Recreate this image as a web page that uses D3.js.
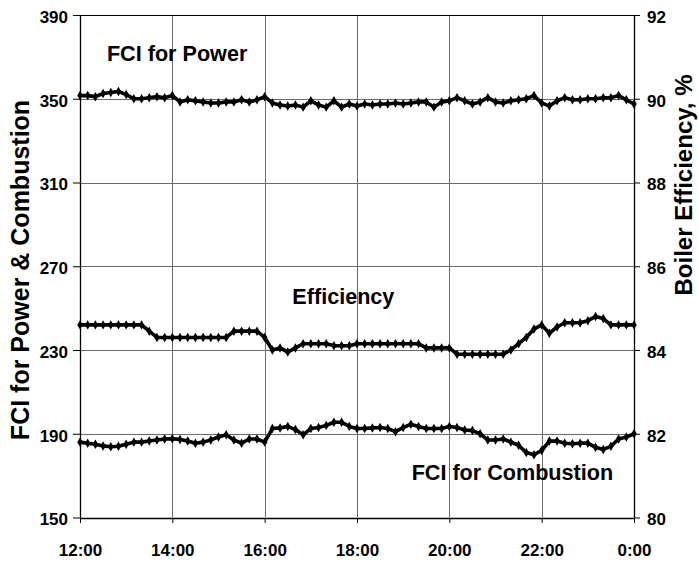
<!DOCTYPE html>
<html>
<head>
<meta charset="utf-8">
<script src="https://cdn.jsdelivr.net/npm/d3@7"></script>
<style>
  html, body { margin: 0; padding: 0; background: #fff; }
  svg { display: block; }
  text { font-family: "Liberation Sans", Arial, sans-serif; font-weight: bold; fill: #000; }
</style>
</head>
<body>
<svg id="chart" width="699" height="561"></svg>
<script>
// Minutes after 12:00, sampled every 10 minutes (0 .. 720)
const minutes = d3.range(0, 721, 10);

// FCI for Power (left axis)
const fciPower = [
  351.5, 351.5, 351, 352.5, 353, 353.5, 352, 350, 350, 350.5,
  351, 350.5, 351.5, 348.5, 349.5, 349, 348.5, 348, 348, 348.5,
  348.5, 349.5, 348.5, 349.5, 351, 348, 347, 346.5, 347, 346,
  349, 347, 346, 349, 346, 347.5, 346.5, 347.5, 347, 347.5,
  347.5, 348, 347.5, 348, 348.5, 348.5, 346, 348.5, 349, 350.5,
  349, 347.5, 348.5, 350.5, 348.5, 348, 349, 349.5, 350, 351.5,
  348, 346.5, 349, 350.5, 349.5, 349.5, 350, 350, 350.5, 350.5,
  351.5, 349.5, 347.5
];

// FCI for Combustion (left axis)
const fciCombustion = [
  186, 185.5, 185, 184.2, 183.8, 184, 185, 186, 186, 186.5,
  187, 187.5, 187.6, 187.3, 186.5, 185.5, 186, 187, 188.5, 189.5,
  187, 185.5, 187.5, 187.5, 186, 192.5, 192.8, 193.5, 192, 189.5,
  192.5, 193, 194, 195.5, 195.5, 193.5, 192.5, 192.5, 192.8, 193,
  192.5, 191, 193, 194.5, 193.5, 192.5, 192.5, 192.5, 193.5, 193,
  191.8, 191.5, 190, 187, 187, 187.5, 186, 184.5, 181, 180,
  182, 186.5, 186.5, 185.5, 185.2, 185.5, 185.5, 183.5, 182.5, 184,
  187.5, 188.4, 190
];

// Boiler efficiency, % (right axis)
const efficiency = [
  84.6, 84.6, 84.6, 84.6, 84.6, 84.6, 84.6, 84.6, 84.6, 84.45,
  84.3, 84.3, 84.3, 84.3, 84.3, 84.3, 84.3, 84.3, 84.3, 84.3,
  84.45, 84.45, 84.45, 84.45, 84.3, 84.0, 84.05, 83.95, 84.05, 84.15,
  84.15, 84.15, 84.15, 84.1, 84.1, 84.1, 84.15, 84.15, 84.15, 84.15,
  84.15, 84.15, 84.15, 84.15, 84.15, 84.05, 84.05, 84.05, 84.05, 83.9,
  83.9, 83.9, 83.9, 83.9, 83.9, 83.9, 84.0, 84.15, 84.3, 84.5,
  84.6, 84.4, 84.55, 84.65, 84.65, 84.65, 84.7, 84.8, 84.75, 84.6,
  84.6, 84.6, 84.6
];

const xTickMinutes = [0, 120, 240, 360, 480, 600, 720];
const xTickLabels = ["12:00", "14:00", "16:00", "18:00", "20:00", "22:00", "0:00"];
const leftTicks = [150, 190, 230, 270, 310, 350, 390];
const rightTicks = [80, 82, 84, 86, 88, 90, 92];

const leftTitle = "FCI for Power & Combustion";
const rightTitle = "Boiler Efficiency, %";
const annotations = [
  { text: "FCI for Power", t: 35, v: 368 },
  { text: "Efficiency", t: 276, v: 252 },
  { text: "FCI for Combustion", t: 431, v: 168 }
];

const svg = d3.select("#chart");
const m = { left: 80, right: 634, top: 15, bottom: 517.5 };

const x = d3.scaleLinear().domain([0, 720]).range([m.left, m.right]);
const yL = d3.scaleLinear().domain([150, 390]).range([m.bottom, m.top]);
const yR = d3.scaleLinear().domain([80, 92]).range([m.bottom, m.top]);

// gridlines
const grid = svg.append("g");
grid.selectAll("line.h").data(leftTicks.filter(d => d > 150 && d < 390)).join("line")
  .attr("x1", m.left).attr("x2", m.right)
  .attr("y1", d => Math.round(yL(d)) + 0.5).attr("y2", d => Math.round(yL(d)) + 0.5)
  .attr("stroke", "#6a6a6a").attr("stroke-width", 1);
grid.selectAll("line.v").data(xTickMinutes.filter(d => d > 0 && d < 720)).join("line")
  .attr("y1", m.top).attr("y2", m.bottom)
  .attr("x1", d => Math.round(x(d)) + 0.5).attr("x2", d => Math.round(x(d)) + 0.5)
  .attr("stroke", "#6a6a6a").attr("stroke-width", 1);

// top frame line
svg.append("line").attr("x1", m.left).attr("x2", m.right)
  .attr("y1", Math.round(m.top) + 0.5).attr("y2", Math.round(m.top) + 0.5)
  .attr("stroke", "#000").attr("stroke-width", 1);

// axes
const xAxis = svg.append("g").attr("transform", `translate(0,${Math.round(m.bottom)})`)
  .call(d3.axisBottom(x).tickValues(xTickMinutes).tickFormat(d => xTickLabels[xTickMinutes.indexOf(d)]).tickSize(5).tickSizeOuter(0));
const yAxisL = svg.append("g").attr("transform", `translate(${m.left},0)`)
  .call(d3.axisLeft(yL).tickValues(leftTicks).tickSize(7).tickSizeOuter(0));
const yAxisR = svg.append("g").attr("transform", `translate(${m.right},0)`)
  .call(d3.axisRight(yR).tickValues(rightTicks).tickSize(6).tickSizeOuter(0));

[xAxis, yAxisL, yAxisR].forEach(g => {
  g.select(".domain").attr("stroke", "#000").attr("stroke-width", 1.3);
  g.selectAll(".tick line").attr("stroke", "#000");
  g.selectAll("text").attr("font-size", 17).attr("font-family", "Liberation Sans, Arial, sans-serif")
    .attr("font-weight", "bold").attr("fill", "#000");
});
xAxis.selectAll("text").attr("dy", 0).attr("y", 38);
yAxisL.selectAll("text").attr("x", -12).attr("dy", "0.44em");
yAxisR.selectAll("text").attr("x", 13).attr("dy", "0.44em");

// series
const lineL = d3.line().x((d, i) => x(minutes[i])).y(d => yL(d)).curve(d3.curveLinear);
const lineR = d3.line().x((d, i) => x(minutes[i])).y(d => yR(d)).curve(d3.curveLinear);
const diamond = d3.symbol().type(d3.symbolDiamond).size(26);

function drawSeries(data, yScale, line) {
  const g = svg.append("g");
  g.append("path").attr("d", line(data)).attr("fill", "none")
    .attr("stroke", "#000").attr("stroke-width", 3.6).attr("stroke-linejoin", "round");
  g.selectAll("path.pt").data(data).join("path").attr("class", "pt")
    .attr("d", diamond)
    .attr("transform", (d, i) => `translate(${x(minutes[i])},${yScale(d)})`)
    .attr("fill", "#000");
}
drawSeries(fciPower, yL, lineL);
drawSeries(efficiency, yR, lineR);
drawSeries(fciCombustion, yL, lineL);

// annotations
svg.selectAll("text.ann").data(annotations).join("text").attr("class", "ann")
  .attr("x", d => x(d.t)).attr("y", d => yL(d.v))
  .attr("font-size", 21.6).text(d => d.text);

// axis titles
svg.append("text").attr("transform", `translate(29,${270}) rotate(-90)`)
  .attr("text-anchor", "middle").attr("font-size", 25).text(leftTitle);
svg.append("text").attr("transform", `translate(692,${185}) rotate(-90)`)
  .attr("text-anchor", "middle").attr("font-size", 24).text(rightTitle);
</script>
</body>
</html>
